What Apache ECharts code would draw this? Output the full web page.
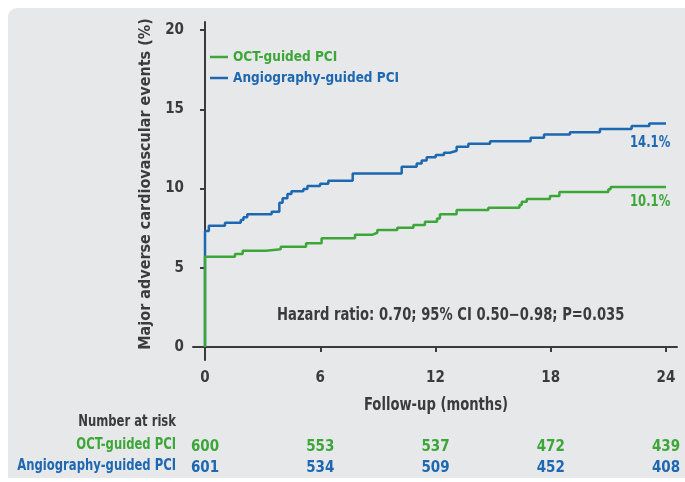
<!DOCTYPE html>
<html>
<head>
<meta charset="utf-8">
<script src="https://cdn.jsdelivr.net/npm/echarts@6/dist/echarts.min.js"></script>
<style>
html,body{margin:0;padding:0;background:#fff;}
#c{width:685px;height:482px;}
</style>
</head>
<body>
<div id="c"></div>
<script>
// ---- Data ----
const seriesNames = ['OCT-guided PCI', 'Angiography-guided PCI'];
// [month, cumulative event %] — value holds from that month on
const octData = [
  [0, 0], [0, 5.69], [1.56, 5.87], [1.96, 6.08], [3.18, 6.16], [3.94, 6.33],
  [5.26, 6.54], [6.07, 6.86], [7.81, 7.09], [8.73, 7.21], [8.97, 7.38],
  [10.01, 7.53], [10.85, 7.7], [11.45, 7.91], [12.08, 8.11], [12.23, 8.37],
  [13.1, 8.64], [14.75, 8.79], [16.37, 8.96], [16.49, 9.17], [16.75, 9.34],
  [17.96, 9.53], [18.45, 9.78], [21.0, 9.95], [21.12, 10.1], [24, 10.1]
];
const angioData = [
  [0, 0], [0, 7.32], [0.2, 7.65], [1.04, 7.84], [1.86, 8.01], [2.0, 8.18],
  [2.2, 8.37], [3.47, 8.54], [3.87, 9.1], [4.04, 9.38], [4.29, 9.66],
  [4.5, 9.82], [5.12, 9.97], [5.33, 10.16], [5.99, 10.3], [6.42, 10.49],
  [7.69, 10.95], [10.24, 11.38], [11.02, 11.57], [11.28, 11.76], [11.54, 11.97],
  [12.01, 12.11], [12.44, 12.26], [12.75, 12.38], [13.1, 12.64], [13.71, 12.83],
  [14.84, 12.98], [16.95, 13.2], [17.65, 13.4], [19.0, 13.55], [20.56, 13.75],
  [22.21, 13.94], [23.13, 14.1], [24, 14.1]
];
const xTicks = [0, 6, 12, 18, 24];
const yTicks = [0, 5, 10, 15, 20];
const riskOCT = [600, 553, 537, 472, 439];
const riskAngio = [601, 534, 509, 452, 408];
const endLabels = ['10.1%', '14.1%'];
const hazardText = 'Hazard ratio: 0.70; 95% CI 0.50\u22120.98; P=0.035';
const xAxisTitle = 'Follow-up (months)';
const yAxisTitle = 'Major adverse cardiovascular events (%)';

// ---- Style ----
const FONT = "'Liberation Sans Narrow', 'DejaVu Sans Condensed', sans-serif";
const DARK = '#3b3b3b';
const GREEN = '#3da639';
const BLUE = '#1e68b1';
const SQ = 0.86; // horizontal squeeze for free texts (condensed look)

const chart = echarts.init(document.getElementById('c'));

function riskAxis(vals, color, offset) {
  return {
    type: 'value', min: -0.625, max: 24.573, position: 'bottom', offset: offset,
    axisLine: { show: false }, axisTick: { show: false }, splitLine: { show: false },
    axisLabel: {
      customValues: xTicks, margin: 0, color: color, fontFamily: FONT,
      fontWeight: 'bold', fontSize: 15,
      formatter: v => { const i = xTicks.indexOf(v); return i >= 0 ? String(vals[i]) : ''; }
    }
  };
}

function freeText(x, y, text, color, size, align) {
  return {
    type: 'text', x: x, y: y, z: 10, scaleX: SQ, silent: true,
    style: { text: text, fill: color, font: 'bold ' + size + 'px ' + FONT,
      align: align || 'left', verticalAlign: 'middle' }
  };
}

chart.setOption({
  animation: false,
  backgroundColor: '#ffffff',
  textStyle: { fontFamily: FONT },
  graphic: [
    { type: 'rect', z: -10, silent: true,
      shape: { x: 8, y: 8, width: 690, height: 470, r: [9, 0, 0, 0] },
      style: { fill: '#e7e8ea' } },
    freeText(277, 316, hazardText, DARK, 17),
    freeText(630, 143, endLabels[1], BLUE, 15),
    freeText(630, 202, endLabels[0], GREEN, 15),
    freeText(436, 406, xAxisTitle, DARK, 17, 'center'),
    freeText(176, 422, 'Number at risk', DARK, 15, 'right'),
    freeText(176, 445, seriesNames[0], GREEN, 15, 'right'),
    freeText(176, 466, seriesNames[1], BLUE, 15, 'right')
  ],
  legend: {
    orient: 'vertical', left: 205, top: 45, itemGap: 7,
    itemWidth: 18, itemHeight: 2.5, icon: 'rect',
    textStyle: { fontFamily: FONT, fontWeight: 'bold', fontSize: 13.5 },
    data: [
      { name: seriesNames[0], textStyle: { color: GREEN } },
      { name: seriesNames[1], textStyle: { color: BLUE } }
    ]
  },
  grid: { left: 193, right: 8, top: 22, bottom: 122 },
  xAxis: [
    {
      type: 'value', min: -0.625, max: 24.573,
      axisLine: { show: true, lineStyle: { color: DARK, width: 2 } },
      axisTick: { show: true, customValues: xTicks, length: 5, lineStyle: { color: DARK, width: 2 } },
      axisLabel: { customValues: xTicks, margin: 11, color: DARK, fontWeight: 'bold', fontSize: 15, fontFamily: FONT },
      splitLine: { show: false }
    },
    riskAxis(riskOCT, GREEN, 80),
    riskAxis(riskAngio, BLUE, 101)
  ],
  yAxis: {
    type: 'value', min: -0.82, max: 20.505,
    name: yAxisTitle, nameLocation: 'middle', nameGap: 38,
    nameTextStyle: { color: DARK, fontWeight: 'bold', fontSize: 16, fontFamily: FONT, padding: [0, 0, 0, 14] },
    axisLine: { show: true, lineStyle: { color: DARK, width: 2 } },
    axisTick: { show: true, customValues: yTicks, length: 5, lineStyle: { color: DARK, width: 2 } },
    axisLabel: { customValues: yTicks, margin: 9, color: DARK, fontWeight: 'bold', fontSize: 15, fontFamily: FONT },
    splitLine: { show: false }
  },
  series: [
    { name: seriesNames[0], type: 'line', step: 'end', data: octData, symbol: 'none',
      color: GREEN, lineStyle: { color: GREEN, width: 2.5 }, z: 3 },
    { name: seriesNames[1], type: 'line', step: 'end', data: angioData, symbol: 'none',
      color: BLUE, lineStyle: { color: BLUE, width: 2.5 }, z: 2 }
  ]
});
</script>
</body>
</html>
